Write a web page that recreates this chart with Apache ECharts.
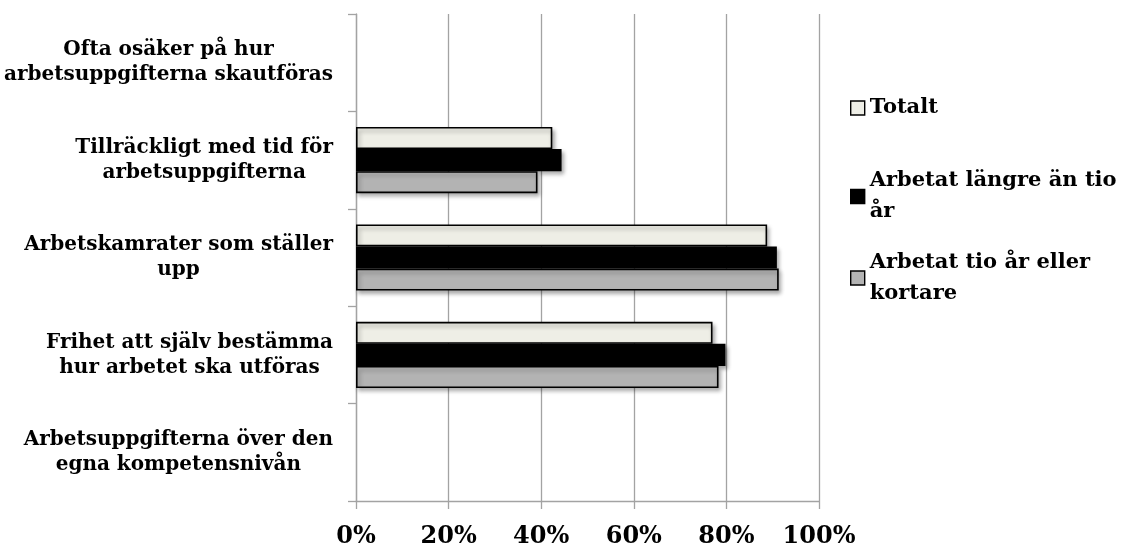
<!DOCTYPE html>
<html>
<head>
<meta charset="utf-8">
<script src="https://cdn.jsdelivr.net/npm/echarts@6/dist/echarts.min.js"></script>
<style>
  html, body { margin: 0; padding: 0; background: #ffffff; }
  #chart { width: 1126px; height: 549px; }
</style>
</head>
<body>
<div id="chart"></div>
<script>
// Survey statements, bottom to top as they appear on the category axis
const categories = [
  'Arbetsuppgifterna över den\negna kompetensnivån',
  'Frihet att själv bestämma\nhur arbetet ska utföras',
  'Arbetskamrater som ställer\nupp',
  'Tillräckligt med tid för\narbetsuppgifterna',
  'Ofta osäker på hur\narbetsuppgifterna skautföras'
];

const seriesNames = ['Totalt', 'Arbetat längre än tio år', 'Arbetat tio år eller kortare'];
const legendLines = ['Totalt', 'Arbetat längre än tio\når', 'Arbetat tio år eller\nkortare'];

// Share answering yes (percent)
const totalt  = [null, 77.0, 88.8, 42.4, null];
const langre  = [null, 79.8, 90.9, 44.4, null];
const kortare = [null, 78.3, 91.3, 39.2, null];

const xTicks = [0, 20, 40, 60, 80, 100];

const FONT = 'DejaVu Serif';
const AXIS_GRAY = '#a3a3a3';

const barShadow = {
  shadowBlur: 4,
  shadowOffsetX: 2,
  shadowOffsetY: 3,
  shadowColor: 'rgba(0,0,0,0.32)'
};

function barSeries(name, data, color) {
  return {
    name: name,
    type: 'bar',
    data: data,
    barGap: '0%',
    barCategoryGap: '32%',
    itemStyle: Object.assign({ color: color, borderColor: '#000', borderWidth: 1.6 }, barShadow)
  };
}

const legendTops = [92.5, 170.5, 252];
const legends = seriesNames.map(function (name, i) {
  const twoLines = legendLines[i].indexOf('\n') >= 0;
  return {
    data: [{ name: name, icon: 'rect' }],
    orient: 'vertical',
    left: 850,
    top: legendTops[i],
    padding: 0,
    itemWidth: 14,
    itemHeight: 14,
    itemGap: 0,
    selectedMode: false,
    itemStyle: { borderColor: '#000', borderWidth: 1.4, shadowBlur: 0, shadowOffsetX: 0, shadowOffsetY: 0 },
    formatter: function () { return legendLines[i]; },
    textStyle: {
      fontFamily: FONT,
      fontWeight: 'bold',
      fontSize: 21,
      color: '#000',
      lineHeight: 31,
      padding: twoLines ? [0, 0, -31, 0] : 0
    }
  };
});

const chart = echarts.init(document.getElementById('chart'), null, { renderer: 'canvas' });

chart.setOption({
  animation: false,
  backgroundColor: '#ffffff',
  grid: { left: 356, right: 307, top: 14, bottom: 47, containLabel: false },
  legend: legends,
  xAxis: {
    type: 'value',
    min: xTicks[0],
    max: xTicks[xTicks.length - 1],
    interval: xTicks[1] - xTicks[0],
    axisLine: { show: true, lineStyle: { color: AXIS_GRAY, width: 1.3 } },
    axisTick: { show: true, length: 8, lineStyle: { color: AXIS_GRAY, width: 1.3 } },
    splitLine: { show: true, lineStyle: { color: AXIS_GRAY, width: 1.3 } },
    axisLabel: {
      margin: 24,
      formatter: '{value}%',
      fontFamily: FONT,
      fontWeight: 'bold',
      fontSize: 24,
      color: '#000'
    }
  },
  yAxis: {
    type: 'category',
    data: categories,
    axisLine: { show: true, lineStyle: { color: AXIS_GRAY, width: 1.3 } },
    axisTick: { show: true, length: 8, lineStyle: { color: AXIS_GRAY, width: 1.3 } },
    splitLine: { show: false },
    axisLabel: {
      margin: 23,
      align: 'right',
      formatter: function (v) {
        return v.split('\n').map(function (s) { return '{c|' + s + '}'; }).join('\n');
      },
      rich: {
        c: {
          align: 'center',
          fontFamily: FONT,
          fontWeight: 'bold',
          fontSize: 20,
          lineHeight: 25,
          color: '#000'
        }
      }
    }
  },
  series: [
    barSeries(seriesNames[0], totalt, '#eeeee6'),
    barSeries(seriesNames[1], langre, '#000000'),
    barSeries(seriesNames[2], kortare, '#b3b3b3')
  ]
});
</script>
</body>
</html>
